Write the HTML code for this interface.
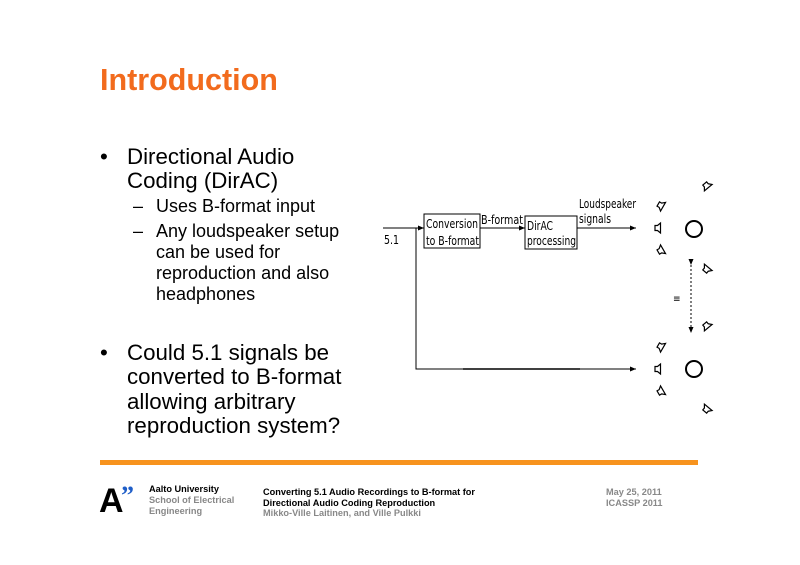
<!DOCTYPE html>
<html><head><style>
body{margin:0;width:800px;height:565px;background:#fff;position:relative;font-family:"Liberation Sans",sans-serif;overflow:hidden}
.a{position:absolute;white-space:nowrap}
.t{left:100px;top:63px;font-size:30.5px;font-weight:bold;color:#f26b1d}
.b{font-size:22.3px;line-height:24.3px;color:#000}
.s{font-size:18px;line-height:21px;color:#000}
.f{font-size:9.2px;font-weight:bold;line-height:10.5px}
</style></head><body>
<div class="a t">Introduction</div>
<div class="a b" style="left:100px;top:145px">•</div>
<div class="a b" style="left:127px;top:145px">Directional Audio<br>Coding (DirAC)</div>
<div class="a s" style="left:133px;top:196px">–</div>
<div class="a s" style="left:156px;top:196px">Uses B-format input</div>
<div class="a s" style="left:133px;top:221px">–</div>
<div class="a s" style="left:156px;top:221px">Any loudspeaker setup<br>can be used for<br>reproduction and also<br>headphones</div>
<div class="a b" style="left:100px;top:341px">•</div>
<div class="a b" style="left:127px;top:341px">Could 5.1 signals be<br>converted to B-format<br>allowing arbitrary<br>reproduction system?</div>
<div class="a" style="left:100px;top:460px;width:598px;height:5px;background:#f7931e"></div>
<svg class="a" style="left:0;top:0" width="800" height="565">
<defs><marker id="ar" markerWidth="6" markerHeight="6" refX="6" refY="3" orient="auto"><path d="M0,0.5L6,3L0,5.5z"/></marker>
<g id="sp"><path d="M-2,-2.5h2.5l3,-2.5v10l-3,-2.5h-2.5z" fill="none" stroke="#000" stroke-width="1.2"/></g></defs>
<g stroke="#000" stroke-width="1" fill="none">
<line x1="383" y1="228" x2="424" y2="228" marker-end="url(#ar)"/>
<line x1="480" y1="228" x2="525" y2="228" marker-end="url(#ar)"/>
<line x1="577" y1="228" x2="636" y2="228" marker-end="url(#ar)"/>
<polyline points="416,228 416,369 636,369" marker-end="url(#ar)"/>
<line x1="463" y1="369" x2="580" y2="369" stroke-width="1.6"/>
<rect x="424" y="214" width="56" height="34"/>
<rect x="525" y="216" width="52" height="33"/>
<circle cx="694" cy="229" r="8" stroke-width="2"/>
<circle cx="694" cy="369" r="8" stroke-width="2"/>
<line x1="691" y1="265" x2="691" y2="333" stroke-dasharray="2,2" marker-end="url(#ar)" marker-start="url(#ar)"/>
</g>
<g font-family="DejaVu Sans Condensed, DejaVu Sans, sans-serif" font-size="12.5" fill="#000">
<text x="426" y="228" textLength="52" lengthAdjust="spacingAndGlyphs">Conversion</text><text x="426" y="245" textLength="53" lengthAdjust="spacingAndGlyphs">to B-format</text>
<text x="527" y="230" textLength="26" lengthAdjust="spacingAndGlyphs">DirAC</text><text x="527" y="245" textLength="49" lengthAdjust="spacingAndGlyphs">processing</text>
<text x="481" y="224" textLength="42" lengthAdjust="spacingAndGlyphs">B-format</text>
<text x="579" y="208" textLength="57" lengthAdjust="spacingAndGlyphs">Loudspeaker</text><text x="579" y="223" textLength="32" lengthAdjust="spacingAndGlyphs">signals</text>
<text x="384" y="244" textLength="15" lengthAdjust="spacingAndGlyphs">5.1</text>
<text x="673" y="302" font-size="10">≡</text>
</g>
<g>
<use href="#sp" x="657" y="228"/><use href="#sp" x="657" y="369"/>
<use href="#sp" transform="translate(660,205) rotate(30)"/><use href="#sp" transform="translate(660,251) rotate(-30)"/>
<use href="#sp" transform="translate(660,346) rotate(30)"/><use href="#sp" transform="translate(660,392) rotate(-30)"/>
<use href="#sp" transform="translate(706,185) rotate(50)"/><use href="#sp" transform="translate(706,270) rotate(-50)"/>
<use href="#sp" transform="translate(706,325) rotate(50)"/><use href="#sp" transform="translate(706,410) rotate(-50)"/>
</g>
<text x="99" y="512" font-family="Liberation Sans" font-weight="bold" font-size="34" fill="#000">A</text>
<text x="121" y="504" font-family="Liberation Serif" font-weight="bold" font-size="26" fill="#1f5ec8">”</text>
</svg>
<div class="a f" style="left:149px;top:484px;color:#000">Aalto University</div>
<div class="a f" style="left:149px;top:495px;color:#888">School of Electrical<br>Engineering</div>
<div class="a f" style="left:263px;top:487px;color:#000">Converting 5.1 Audio Recordings to B-format for<br>Directional Audio Coding Reproduction</div>
<div class="a f" style="left:263px;top:508px;color:#888">Mikko-Ville Laitinen, and Ville Pulkki</div>
<div class="a f" style="left:606px;top:487px;color:#888">May 25, 2011<br>ICASSP 2011</div>
</body></html>
